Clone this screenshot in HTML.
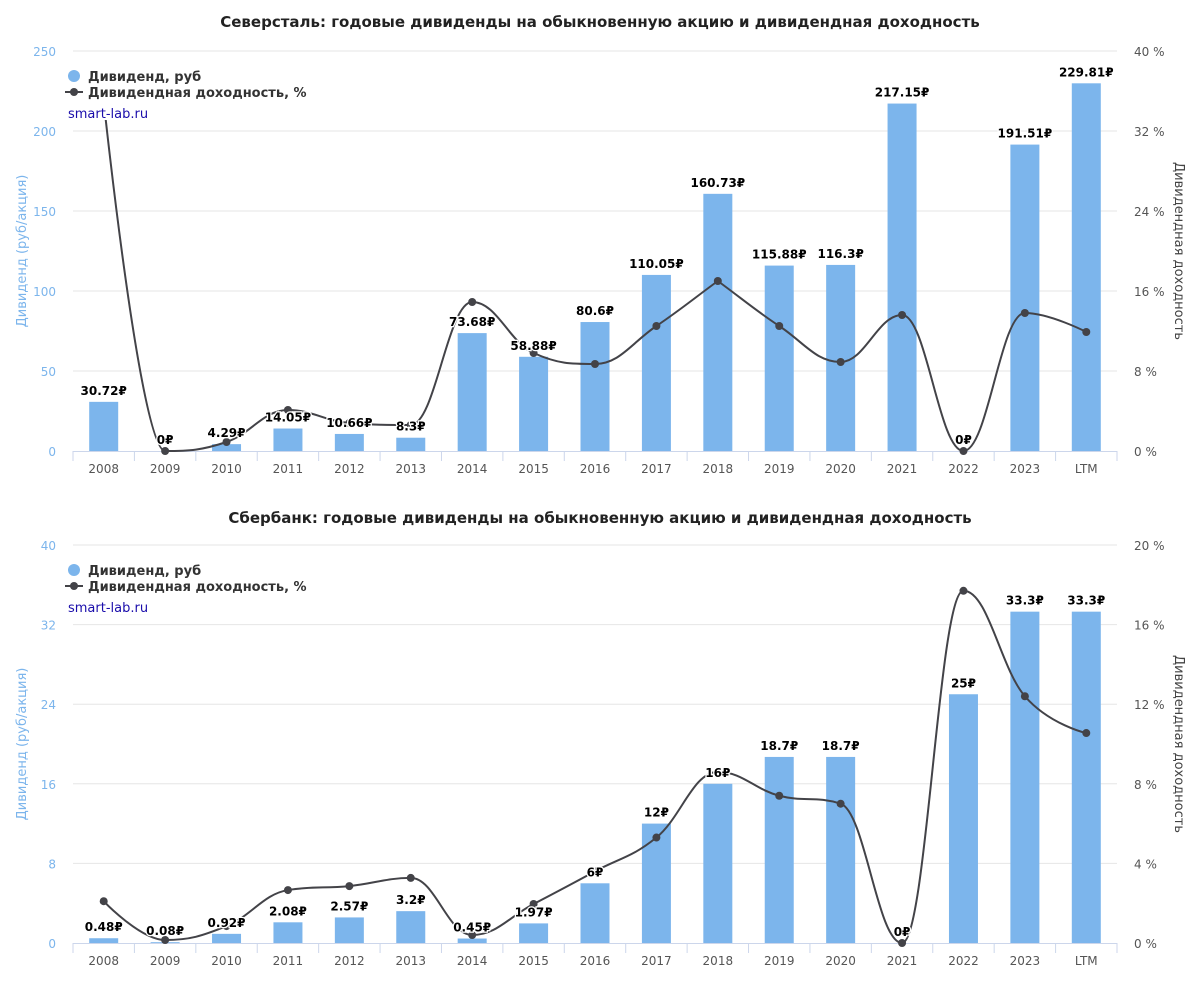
<!DOCTYPE html>
<html><head><meta charset="utf-8">
<style>
body{margin:0;background:#fff;width:1200px;height:976px;overflow:hidden;font-family:"Liberation Sans","DejaVu Sans",sans-serif}
svg text{font-family:"DejaVu Sans","Liberation Sans",sans-serif}
</style></head>
<body>
<svg id="svg" width="1200" height="976" xmlns="http://www.w3.org/2000/svg"></svg>
<script>
const categories=["2008","2009","2010","2011","2012","2013","2014","2015","2016","2017","2018","2019","2020","2021","2022","2023","LTM"];
const sevDiv=[30.72,0,4.29,14.05,10.66,8.3,73.68,58.88,80.6,110.05,160.73,115.88,116.3,217.15,0,191.51,229.81];
const sevYield=[35,0,0.9,4.1,2.8,2.6,14.9,9.8,8.7,12.5,17,12.5,8.9,13.6,0,13.8,11.9];
const sevLeftTicks=[0,50,100,150,200,250];
const sevRightTicks=[0,8,16,24,32,40];
const sbDiv=[0.48,0.08,0.92,2.08,2.57,3.2,0.45,1.97,6,12,16,18.7,18.7,0,25,33.3,33.3];
const sbYield=[2.1,0.15,0.85,2.66,2.86,3.27,0.4,1.96,3.6,5.3,8.6,7.4,7.0,0,17.7,12.4,10.55];
const sbLeftTicks=[0,8,16,24,32,40];
const sbRightTicks=[0,4,8,12,16,20];

const NS="http://www.w3.org/2000/svg";
const svg=document.getElementById('svg');
function mk(tag,attrs,parent,text){const e=document.createElementNS(NS,tag);for(const k in attrs)e.setAttribute(k,attrs[k]);if(text!==undefined)e.textContent=text;(parent||svg).appendChild(e);return e;}

function conts(pts,i){
  const [x,y]=pts[i];
  const [lx,ly]=pts[Math.max(0,i-1)],[nx,ny]=pts[Math.min(pts.length-1,i+1)];
  if(i===0||i===pts.length-1)return {l:[x,y],r:[x,y]};
  let lcx=(1.5*x+lx)/2.5,lcy=(1.5*y+ly)/2.5,rcx=(1.5*x+nx)/2.5,rcy=(1.5*y+ny)/2.5;
  if(rcy!==lcy){const c=((rcy-lcy)*(rcx-x))/(rcx-lcx)+y-rcy;lcy+=c;rcy+=c;}
  if(lcy>ly&&lcy>y){lcy=Math.max(ly,y);rcy=2*y-lcy;}else if(lcy<ly&&lcy<y){lcy=Math.min(ly,y);rcy=2*y-lcy;}
  if(rcy>ny&&rcy>y){rcy=Math.max(ny,y);lcy=2*y-rcy;}else if(rcy<ny&&rcy<y){rcy=Math.min(ny,y);lcy=2*y-rcy;}
  return {l:[lcx,lcy],r:[rcx,rcy]};
}

function chart(id,title,titleY,top,bottom,divs,yields,lt,rt){
  const g=mk('g',{});
  
  
  const L=73,R=1117,n=categories.length,step=(R-L)/n;
  const lmax=lt[lt.length-1],rmax=rt[rt.length-1];
  const xc=i=>L+step*(i+0.5);
  const yl=v=>bottom-(v/lmax)*(bottom-top);
  const yr=v=>bottom-(v/rmax)*(bottom-top);
  const t=mk('text',{x:600,y:titleY,'text-anchor':'middle','font-size':15,'font-weight':'bold',fill:'#222'},g,title);
  
  lt.forEach((v,i)=>{
    const y=yl(v);
    if(i>0){const gl=mk('line',{x1:L,x2:R,y1:y,y2:y,stroke:'#e6e6e6','stroke-width':1},g);}
    const tx=mk('text',{x:56,y:y+5,'text-anchor':'end','font-size':12,fill:'#7cb5ec'},g,v);
    
  });
  rt.forEach(v=>{
    const tx=mk('text',{x:1134,y:yr(v)+5,'font-size':12,fill:'#555'},g,v+' %');
    
  });
  const ax=mk('line',{x1:L,x2:R,y1:bottom+0.5,y2:bottom+0.5,stroke:'#ccd6eb'},g);
  
  for(let i=0;i<=n;i++){const tk=mk('line',{x1:L+step*i,x2:L+step*i,y1:bottom,y2:bottom+10,stroke:'#ccd6eb'},g);}
  categories.forEach((c,i)=>{const tx=mk('text',{x:xc(i),y:bottom+22,'text-anchor':'middle','font-size':12,fill:'#555'},g,c);});
  const lyl=mk('text',{transform:`translate(26,${(top+bottom)/2}) rotate(-90)`,'text-anchor':'middle','font-size':13,fill:'#7cb5ec'},g,'Дивиденд (руб/акция)');
  
  const ryl=mk('text',{transform:`translate(1175,${(top+bottom)/2}) rotate(90)`,'text-anchor':'middle','font-size':13,fill:'#444'},g,'Дивидендная доходность');
  
  divs.forEach((v,i)=>{
    const y=yl(v);
    const b=mk('rect',{x:xc(i)-14.5,y:y,width:29,height:bottom-y,fill:'#7cb5ec'},g);
    
  });
  const cid='clip-'+id;
  const cp=mk('clipPath',{id:cid},g);mk('rect',{x:L,y:top,width:R-L,height:bottom-top+6},cp);
  const pts=yields.map((v,i)=>[xc(i),yr(v)]);
  const cs=pts.map((p,i)=>conts(pts,i));
  let d='M'+pts[0][0]+','+pts[0][1];
  for(let i=1;i<pts.length;i++){
    const a=cs[i-1].r,b=cs[i].l;
    d+=`C${a[0]},${a[1]} ${b[0]},${b[1]} ${pts[i][0]},${pts[i][1]}`;
  }
  const ln=mk('path',{d:d,fill:'none',stroke:'#434348','stroke-width':2,'clip-path':`url(#${cid})`},g);
  
  pts.forEach((p,i)=>{const c=mk('circle',{cx:p[0],cy:p[1],r:4,fill:'#434348','clip-path':`url(#${cid})`},g);});
  divs.forEach((v,i)=>{
    const tx=mk('text',{x:xc(i),y:yl(v)-7,'text-anchor':'middle','font-size':12,'font-weight':'bold',fill:'#000',stroke:'#fff','stroke-width':2.5,'paint-order':'stroke'},g,v+'₽');
    
  });
  const lg=mk('g',{},g);
  const ly=top+25;
  mk('rect',{x:64,y:ly-12,width:220,height:56,fill:'#fff'},lg);
  const e1=mk('circle',{cx:74,cy:ly,r:6,fill:'#7cb5ec'},lg);
  mk('text',{x:88,y:ly+5,'font-size':13,'font-weight':'bold',fill:'#333'},lg,'Дивиденд, руб');
  mk('line',{x1:65,x2:83,y1:ly+16,y2:ly+16,stroke:'#434348','stroke-width':2},lg);
  const e2=mk('circle',{cx:74,cy:ly+16,r:4,fill:'#434348'},lg);
  mk('text',{x:88,y:ly+21,'font-size':13,'font-weight':'bold',fill:'#333'},lg,'Дивидендная доходность, %');
  const sl=mk('text',{x:68,y:ly+42,'font-size':13,fill:'#1a0dab'},lg,'smart-lab.ru');
  
}
chart('severstal','Северсталь: годовые дивиденды на обыкновенную акцию и дивидендная доходность',27,51,451,sevDiv,sevYield,sevLeftTicks,sevRightTicks);
chart('sberbank','Сбербанк: годовые дивиденды на обыкновенную акцию и дивидендная доходность',523,545,943,sbDiv,sbYield,sbLeftTicks,sbRightTicks);
</script>
</body></html>
